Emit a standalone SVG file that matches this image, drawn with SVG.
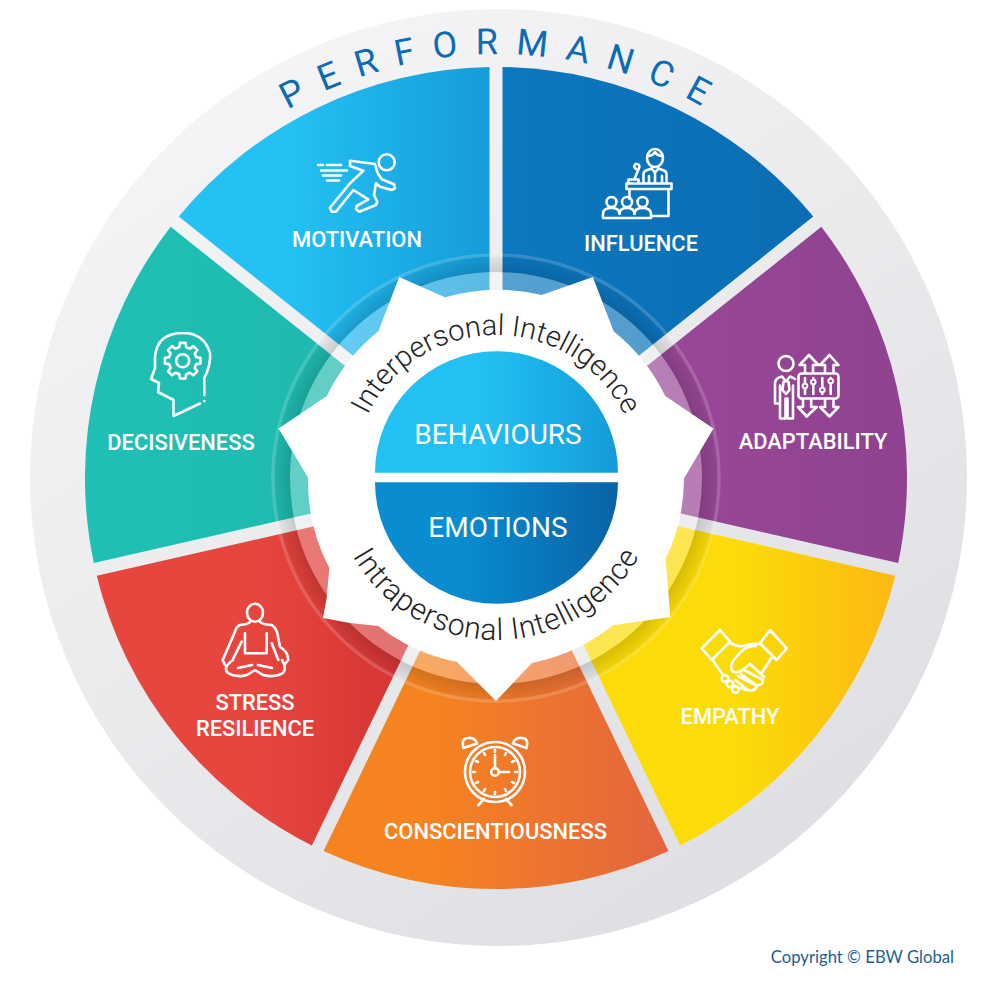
<svg xmlns="http://www.w3.org/2000/svg" xmlns:xlink="http://www.w3.org/1999/xlink" width="1000" height="1000" viewBox="0 0 1000 1000">
<style>
.ic{fill:none;stroke:#fff;stroke-width:2.6;stroke-linecap:round;stroke-linejoin:round}
.lb{font-family:Roboto,"Liberation Sans",sans-serif;font-weight:500;font-size:21.9px;fill:#fff;text-anchor:middle}
.cn{font-family:Roboto,"Liberation Sans",sans-serif;font-weight:400;font-size:28px;fill:#fff;text-anchor:middle}
.iq{font-family:Roboto,"Liberation Sans",sans-serif;font-weight:300;fill:#222;text-anchor:middle}
</style>
<defs>
<linearGradient id="gO" x1="0.2" y1="0.05" x2="0.8" y2="0.95"><stop offset="0" stop-color="#f5f5f7"/><stop offset="1" stop-color="#dedfe2"/></linearGradient>
<linearGradient id="gMo"><stop offset="0.35" stop-color="#24c1f4"/><stop offset="1" stop-color="#159cd9"/></linearGradient>
<linearGradient id="gIn"><stop offset="0" stop-color="#0b78bf"/><stop offset="1" stop-color="#0a6db3"/></linearGradient>
<linearGradient id="gAd"><stop offset="0" stop-color="#a04b9d"/><stop offset="1" stop-color="#8e428f"/></linearGradient>
<linearGradient id="gEm"><stop offset="0.6" stop-color="#fbdb08"/><stop offset="1" stop-color="#fdb813"/></linearGradient>
<linearGradient id="gCo"><stop offset="0.3" stop-color="#f58420"/><stop offset="1" stop-color="#e4643f"/></linearGradient>
<linearGradient id="gSt"><stop offset="0.4" stop-color="#e7463f"/><stop offset="1" stop-color="#cb2c2e"/></linearGradient>
<linearGradient id="gDe"><stop offset="0" stop-color="#1fc0b5"/><stop offset="1" stop-color="#1fb6aa"/></linearGradient>
<linearGradient id="gBe"><stop offset="0.45" stop-color="#22c0f3"/><stop offset="1" stop-color="#149bd8"/></linearGradient>
<linearGradient id="gEo"><stop offset="0.35" stop-color="#0a8cd1"/><stop offset="1" stop-color="#0a62a6"/></linearGradient>
<radialGradient id="gBand" gradientUnits="userSpaceOnUse" cx="496" cy="478" r="223"><stop offset="0.92" stop-color="#000" stop-opacity="0.15"/><stop offset="1" stop-color="#000" stop-opacity="0.03"/></radialGradient>
<path id="pPerf" d="M 262,126 A 424,424 0 0 1 734,126"/>
<path id="pInter" d="M 353,478 A 143,143 0 0 1 639,478"/>
<path id="pIntra" d="M 332,476 A 164,164 0 0 0 660,476"/>
</defs>

<circle id="outer-disc" cx="498.5" cy="477.5" r="468.5" fill="url(#gO)"/>
<text id="performance" font-family="Roboto,'Liberation Sans',sans-serif" font-size="36" font-weight="400" fill="#0b6cb5" letter-spacing="17.5" text-anchor="middle"><textPath xlink:href="#pPerf" href="#pPerf" startOffset="51%">PERFORMANCE</textPath></text>

<g id="influence">
<path d="M502.5,464.5 L502.5,67 A411,411 0 0 1 813.25,216.62 Z" fill="url(#gIn)"/>
<ellipse class="ic" cx="655" cy="158" rx="8" ry="9"/>
<path class="ic" d="M647.500,156 q5,0 7.500,-4 q2.500,4 7.500,4 M643.500,183 v-9 q0,-3 4,-4 l4,-1.500 l3.500,4 l3.500,-4 l4,1.500 q4,1 4,4 v9 M655,173 v10 M649,176 v7 M662,176 v7 M636,169 a2.600,2.600 0 1 1 3,-1 l-4.500,11 M628.500,183 v-3.500 h10 v3.500 M626.500,183.500 h45 v5.500 h-45 Z M629.500,189 v10 M668.500,189 v27 h-17"/>
<circle class="ic" cx="611.500" cy="202" r="5"/><circle class="ic" cx="627" cy="202" r="5"/><circle class="ic" cx="642.500" cy="202" r="5"/>
<path class="ic" d="M603,218 v-4 q0,-6 8.500,-6 q8,0 8,6 q0,-6 7.500,-6 q7.500,0 7.500,6 q0,-6 8,-6 q8.500,0 8.500,6 v4 Z"/>
<text class="lb" x="641" y="251">INFLUENCE</text>
</g>

<g id="adaptability">
<path d="M510.6,474.7 L821.35,226.78 A411,411 0 0 1 898.15,563.06 Z" fill="url(#gAd)"/>
<circle class="ic" cx="786" cy="363.500" r="7.500"/>
<path class="ic" d="M795,379 q-3,-2 -5,-2.500 l-4,5 l-4,-5 q-7,1.500 -7,7 v20 h5 v-18 v33 h5.500 v-20 h2 v20 h5.500 v-33 M783.500,382 l-1,8 l3.500,4 l3.500,-4 l-1,-8"/>
<rect class="ic" x="798.500" y="373.500" width="40" height="25" rx="3"/>
<path class="ic" d="M805,378 v16 M813.300,378 v16 M822.300,378 v16 M830.700,378 v16" stroke-width="2"/>
<g fill="#8f438f" stroke="#fff" stroke-width="2"><circle cx="805" cy="386" r="2.300"/><circle cx="813.300" cy="382" r="2.300"/><circle cx="822.300" cy="390" r="2.300"/><circle cx="830.700" cy="381" r="2.300"/></g>
<path class="ic" d="M805,373 v-8 h-5.500 l9.500,-10 l9.500,10 h-5.500 v8 M825,373 v-8 h-5 l9.500,-10 l9,10 h-5 v8 M803,399 v8 h-5 l8.700,9.500 l10,-9.500 h-5.500 v-8 M825,399 v8 h-5 l9.500,9.500 l9,-9.500 h-5 v-8"/>
<text class="lb" x="813" y="449">ADAPTABILITY</text>
</g>

<g id="empathy">
<path d="M507.7,487.4 L895.25,575.74 A411,411 0 0 1 680.16,845.48 Z" fill="url(#gEm)"/>
<path class="ic" d="M701.700,648.300 L720,630 L730,641.700 L711.700,660 Z M770,630 L786.700,648.300 L776.700,660 L760,643.300 Z M730,643 Q738,647 743,646 Q752,643 761,644 M772,657 L761,674 L750,664 L741,671 Q732,675 731,667 Q731,661 743,650 Q748,646 756,646 M750,664 L764,677 M744,670 L763,680 Q763,686 756,685 L741,674 M738,676 L757,686 Q755,692 748,690 L735,680 M712,659 Q716,665 723,675 M741,688 L746,690"/>
<circle class="ic" cx="725" cy="678.500" r="3.300"/><circle class="ic" cx="730" cy="684" r="3.300"/><circle class="ic" cx="735.500" cy="689.500" r="3.300"/>
<text class="lb" x="730" y="724">EMPATHY</text>
</g>

<g id="conscientiousness">
<path d="M496,493 L668.44,851.12 A411,411 0 0 1 323.56,851.12 Z" fill="url(#gCo)"/>
<circle class="ic" cx="495" cy="772" r="30"/><circle class="ic" cx="495" cy="772" r="25"/>
<circle class="ic" cx="495" cy="772" r="3.800"/>
<path class="ic" d="M495,768 V755 M499,772 H509 M463.500,748 Q461,738 468,738 Q475,737 477,743.500 Z M526.500,748 Q529,738 522,738 Q515,737 513,743.500 Z M484,799 L478.500,805 M506,799 L511.500,805"/>
<path class="ic" stroke-width="1.500" d="M495,750 v2 M495,792 v2 M473,772 h2 M515,772 h2 M484,753 l1,2 M505,789 l1,2 M476,761 l2,1 M512,782 l2,1 M476,783 l2,-1 M512,762 l2,-1 M484,791 l1,-2 M505,755 l1,-2"/>
<text class="lb" x="495.500" y="839">CONSCIENTIOUSNESS</text>
</g>

<g id="stress-resilience">
<path d="M484.3,487.4 L311.84,845.48 A411,411 0 0 1 96.75,575.74 Z" fill="url(#gSt)"/>
<ellipse class="ic" cx="255" cy="612.700" rx="8" ry="9"/>
<path class="ic" d="M250,621.700 Q249,624 240,625 Q236,627 235,631.700 L222.700,660 L225,665 M260,621.700 Q261,624 271.700,625 Q276,628 277.300,633.300 L280,646.700 Q287,652 287.300,655 L288.300,660 L285,664 M245,633.300 V653.300 H266.700 V633.300 M241.700,641.700 L233.300,658.300 M271.700,643.300 L278.300,660 M233,660 Q222,668 228,673 Q236,678 247,675 L255,670 L263,675 Q275,678 283,673 Q287,668 282,660 M238,668 L252,665 M258,665 L272,668"/>
<text class="lb" x="255" y="710">STRESS</text><text class="lb" x="255" y="736">RESILIENCE</text>
</g>

<g id="decisiveness">
<path d="M481.4,474.7 L93.85,563.06 A411,411 0 0 1 170.65,226.78 Z" fill="url(#gDe)"/>
<path class="ic" d="M204.300,395 V378 Q211,365 210,353 Q204,333 183,333 Q157,333 155,357 V368 L151,379 L159,383 L158,392 L173.500,400 V416 L200,403.500 M204.300,401 v0.100"/>
<g transform="translate(182.700 360.700)"><polygon class="ic" points="13.600,-3.400 17.800,-2.800 17.800,2.800 13.600,3.400 12,7.200 14.600,10.600 10.600,14.600 7.200,12 3.400,13.600 2.800,17.800 -2.800,17.800 -3.400,13.600 -7.200,12 -10.600,14.600 -14.600,10.600 -12,7.200 -13.600,3.400 -17.800,2.800 -17.800,-2.800 -13.600,-3.400 -12,-7.200 -14.600,-10.600 -10.600,-14.600 -7.200,-12 -3.400,-13.600 -2.800,-17.800 2.800,-17.800 3.400,-13.600 7.200,-12 10.600,-14.600 14.600,-10.600 12,-7.200"/><circle class="ic" r="6.500"/></g>
<text class="lb" x="181" y="450">DECISIVENESS</text>
</g>

<g id="motivation">
<path d="M489.5,464.5 L178.75,216.62 A411,411 0 0 1 489.5,67 Z" fill="url(#gMo)"/>
<circle class="ic" cx="386.700" cy="162.300" r="8"/>
<path class="ic" d="M350,160.700 L375,164 L377.700,173.300 L381.700,179.300 L394,184.300 L395,188.300 L391.700,190 L380,186.700 L376,183.300 L374,195 L377.300,201.700 L376,205 L359.300,211.700 L356,209.300 L356.700,206 L368.300,199.300 L353.300,190 L336,211.700 L331.700,211.700 L330,207.700 L350,183.300 L363.300,170.700 L350,166 Z M318,165 h5 M327,165 h14 M321,170.500 h26 M323,175.500 h18 M327,180.500 h12"/>
<text class="lb" x="357" y="247">MOTIVATION</text>
</g>

<circle id="ring-light" cx="496" cy="478" r="206" fill="#fff" fill-opacity="0.3"/>
<path id="ring-band" fill-rule="evenodd" d="M273,478 a223,223 0 1 1 446,0 a223,223 0 1 1 -446,0 Z M290,478 a206,206 0 1 0 412,0 a206,206 0 1 0 -412,0 Z" fill="url(#gBand)"/>
<circle cx="496" cy="478" r="223" fill="none" stroke="#fff" stroke-opacity="0.17" stroke-width="3.500"/>

<g id="centre">
<path d="M541.700,295 L592.800,277.100 L613.600,331.300 A188,188 0 0 1 665.200,396 L713.400,428.400 L684,478.500 A188,188 0 0 1 665.600,559.100 L670.300,617 L612.900,625.300 A188,188 0 0 1 532,663 L496,701 L457,662 A188,188 0 0 1 378.300,626 L350,623 L323,618 L326.700,598 L329.300,568 A188,188 0 0 1 308,477.500 L278.600,428.400 L326.800,396 A188,188 0 0 1 378.400,331.300 L399.200,277.100 L445,297.300 A188,188 0 0 1 541.700,295 Z" fill="#fff"/>
<text class="iq" font-size="29"><textPath xlink:href="#pInter" href="#pInter" startOffset="50%">Interpersonal Intelligence</textPath></text>
<text class="iq" font-size="30" letter-spacing="0.7"><textPath xlink:href="#pIntra" href="#pIntra" startOffset="50%">Intrapersonal Intelligence</textPath></text>
</g>
<g id="behaviours">
<path d="M375,472.700 A121.500,121.500 0 0 1 618,472.700 Z" fill="url(#gBe)"/>
<text class="cn" x="498" y="444">BEHAVIOURS</text>
</g>
<g id="emotions">
<path d="M375,482.300 A121.500,121.500 0 0 0 618,482.300 Z" fill="url(#gEo)"/>
<text class="cn" x="498" y="537">EMOTIONS</text>
</g>
<text id="copyright" x="954" y="963" text-anchor="end" font-family="Lato,'Open Sans',sans-serif" font-size="16.700" fill="#1c5f92">Copyright © EBW Global</text>
</svg>
